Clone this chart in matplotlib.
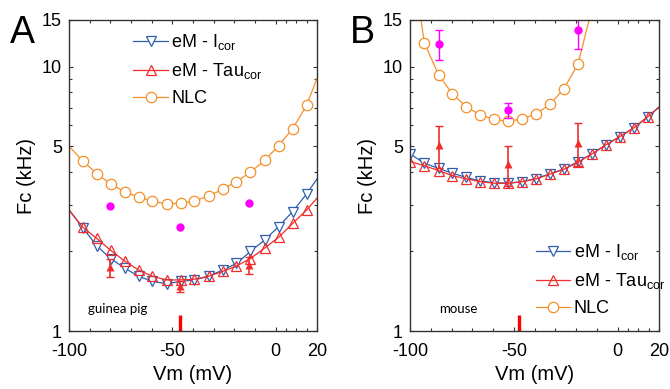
import numpy as np
import matplotlib
matplotlib.use('Agg')
import matplotlib.pyplot as plt
from matplotlib.ticker import FixedLocator, NullFormatter

plt.rcParams['font.family'] = ['Liberation Sans', 'DejaVu Sans']
plt.rcParams['mathtext.fontset'] = 'custom'
plt.rcParams['mathtext.rm'] = 'Liberation Sans'

# ---- panel A : guinea pig ----
# line points include the axis edges (-100 and 20), markers only inside
vm_a = [-100, -93.4, -86.6, -79.9, -73.1, -66.3, -59.6, -52.8, -46.0, -39.3,
        -32.5, -25.7, -19.0, -12.2, -5.3, 1.4, 8.2, 15.0, 20]
icor_a = [2.87, 2.46, 2.10, 1.88, 1.73, 1.61, 1.54, 1.51, 1.54, 1.56,
          1.61, 1.70, 1.80, 2.00, 2.21, 2.48, 2.83, 3.30, 3.76]
tau_a = [2.87, 2.47, 2.24, 2.02, 1.84, 1.70, 1.61, 1.56, 1.56, 1.57,
         1.61, 1.68, 1.76, 1.88, 2.06, 2.26, 2.55, 2.87, 3.18]
nlc_a = [5.0, 4.40, 3.94, 3.60, 3.36, 3.21, 3.09, 3.03, 3.04, 3.10,
         3.24, 3.43, 3.67, 3.99, 4.42, 5.02, 5.82, 7.14, 9.03]

exp_vm_a = [-80.2, -46.4, -12.9]
exp_nlc_a = [2.97, 2.48, 3.04]
exp_fc_a = [1.74, 1.48, 1.78]
exp_fc_lo_a = [1.60, 1.41, 1.64]
exp_fc_hi_a = [1.87, 1.55, 1.90]
vh_a = -46.5

# ---- panel B : mouse ----
vm_b = [-99.9, -93.1, -86.2, -79.6, -72.9, -66.1, -59.4, -52.8, -45.9, -39.3,
        -32.5, -25.8, -19.0, -12.4, -5.7, 1.1, 7.8, 14.6, 20]
icor_b = [4.67, 4.31, 4.12, 3.95, 3.81, 3.69, 3.64, 3.62, 3.67, 3.77,
          3.93, 4.10, 4.37, 4.67, 5.05, 5.43, 5.86, 6.46, 7.02]
tau_b = [4.37, 4.22, 4.04, 3.87, 3.76, 3.67, 3.62, 3.62, 3.67, 3.76,
         3.92, 4.09, 4.35, 4.67, 5.05, 5.43, 5.86, 6.46, 7.02]
vm_nlc_b = [-99.9, -93.1, -86.2, -79.6, -72.9, -66.1, -59.4, -52.8, -45.9,
            -39.3, -32.5, -25.8, -19.0, -12.2]
nlc_b = [28.6, 12.3, 9.30, 7.88, 7.05, 6.56, 6.31, 6.21, 6.34, 6.62,
         7.20, 8.25, 10.23, 16.7]

exp_vm_b = [-86.2, -52.8, -19.0]
exp_nlc_b = [12.2, 6.85, 13.7]
exp_nlc_lo_b = [10.6, 6.4, 11.7]
exp_nlc_hi_b = [13.8, 7.3, 15.5]
exp_fc_b = [5.05, 4.27, 5.16]
exp_fc_lo_b = [4.12, 3.52, 4.19]
exp_fc_hi_b = [5.98, 5.02, 6.13]
vh_b = -47.3

blue = '#2F5FAE'
red = '#F02C2C'
orange = '#F5902A'
magenta = '#FF00FF'

lab_i = 'eM - I$_{\\mathregular{cor}}$'
lab_t = 'eM - Tau$_{\\mathregular{cor}}$'
lab_n = 'NLC'

fig = plt.figure(figsize=(6.7, 3.89), dpi=100)
ax_a = fig.add_axes([69 / 670, 58 / 389, 248 / 670, 311 / 389])
ax_b = fig.add_axes([410 / 670, 58 / 389, 249 / 670, 311 / 389])


def style_axes(ax):
    ax.set_yscale('log')
    ax.set_xlim(-100, 20)
    ax.set_ylim(1, 15)
    ax.set_xticks([-100, -50, 0, 20])
    ax.set_xticklabels(['-100', '-50', '0', '20'])
    ax.xaxis.set_minor_locator(FixedLocator([-90, -80, -70, -60, -40, -30, -20, -10, 5, 10, 15]))
    ax.set_yticks([1, 5, 10, 15])
    ax.set_yticklabels(['1', '5', '10', '15'])
    ax.yaxis.set_minor_locator(FixedLocator([2, 3, 4, 6, 7, 8, 9]))
    ax.yaxis.set_minor_formatter(NullFormatter())
    ax.tick_params(which='both', direction='in', top=True, right=True,
                   color='#333333', labelsize=13)
    ax.tick_params(axis='x', which='major', pad=9)
    ax.tick_params(axis='y', which='major', pad=5)
    ax.tick_params(which='major', length=3, width=0.8)
    ax.tick_params(which='minor', length=2.5, width=0.8)
    for s in ax.spines.values():
        s.set_color('#333333')
        s.set_linewidth(1.0)
    ax.set_xlabel('Vm (mV)', fontsize=14.5, labelpad=3)
    ax.set_ylabel('Fc (kHz)', fontsize=14.5, labelpad=4)


ms = 7.5
# panel A
ax_a.plot(vm_a, icor_a, '-', color=blue, lw=0.9, marker='v', ms=ms, mfc='white',
          mec=blue, mew=0.9, markevery=slice(1, -1), label=lab_i)
ax_a.plot(vm_a, tau_a, '-', color=red, lw=0.9, marker='^', ms=ms, mfc='none',
          mec=red, mew=0.9, markevery=slice(1, -1), label=lab_t)
ax_a.plot(vm_a, nlc_a, '-', color=orange, lw=0.9, marker='o', ms=ms, mfc='white',
          mec=orange, mew=0.9, markevery=slice(1, -1), label=lab_n)
ax_a.plot(exp_vm_a, exp_nlc_a, 'o', color=magenta, ms=6, mec='none')
ax_a.errorbar(exp_vm_a, exp_fc_a,
              yerr=[np.subtract(exp_fc_a, exp_fc_lo_a), np.subtract(exp_fc_hi_a, exp_fc_a)],
              fmt='^', color=red, ms=6, mec='none', elinewidth=1.2, capsize=3, capthick=1.0)
ax_a.plot([vh_a, vh_a], [1, 1.15], color='#FF0000', lw=2.4, solid_capstyle='butt')
ax_a.text(-91, 1.17, 'guinea pig', fontsize=9.5, family=['Lato', 'DejaVu Sans'])
style_axes(ax_a)
ax_a.legend(loc='upper left', bbox_to_anchor=(0.26, 0.96), frameon=False, fontsize=13,
            handlelength=1.9, handletextpad=0.2, labelspacing=0.5, borderpad=0,
            borderaxespad=0)

# panel B
ax_b.plot(vm_b, icor_b, '-', color=blue, lw=0.9, marker='v', ms=ms, mfc='white',
          mec=blue, mew=0.9, markevery=slice(0, -1), label=lab_i)
ax_b.plot(vm_b, tau_b, '-', color=red, lw=0.9, marker='^', ms=ms, mfc='none',
          mec=red, mew=0.9, markevery=slice(0, -1), label=lab_t)
ax_b.plot(vm_nlc_b, nlc_b, '-', color=orange, lw=0.9, marker='o', ms=ms, mfc='white',
          mec=orange, mew=0.9, label=lab_n)
ax_b.errorbar(exp_vm_b, exp_nlc_b,
              yerr=[np.subtract(exp_nlc_b, exp_nlc_lo_b), np.subtract(exp_nlc_hi_b, exp_nlc_b)],
              fmt='o', color=magenta, ms=6, mec='none', elinewidth=1.0, capsize=3, capthick=1.0)
ax_b.errorbar(exp_vm_b, exp_fc_b,
              yerr=[np.subtract(exp_fc_b, exp_fc_lo_b), np.subtract(exp_fc_hi_b, exp_fc_b)],
              fmt='^', color=red, ms=6, mec='none', elinewidth=1.2, capsize=3, capthick=1.0)
ax_b.plot([vh_b, vh_b], [1, 1.15], color='#FF0000', lw=2.4, solid_capstyle='butt')
ax_b.text(-86, 1.17, 'mouse', fontsize=9.5, family=['Lato', 'DejaVu Sans'])
style_axes(ax_b)
ax_b.legend(loc='lower left', bbox_to_anchor=(0.505, 0.045), frameon=False, fontsize=13,
            handlelength=1.9, handletextpad=0.2, labelspacing=0.5, borderpad=0,
            borderaxespad=0)

fig.text(10 / 670, 1 - 43 / 389, 'A', fontsize=27)
fig.text(350 / 670, 1 - 43 / 389, 'B', fontsize=27)

fig.savefig('out.png', dpi=100)
